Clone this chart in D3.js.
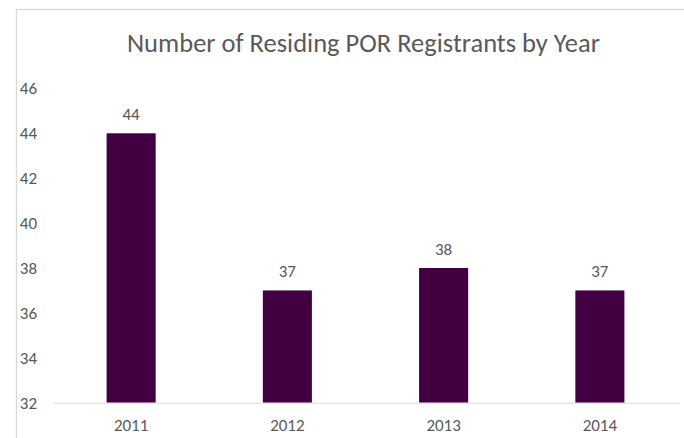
<!DOCTYPE html>
<html>
<head>
<meta charset="utf-8">
<script src="https://cdn.jsdelivr.net/npm/d3@7"></script>
<style>
    body { margin: 0; background: #ffffff; }
    svg { display: block; }
</style>
</head>
<body>
<div id="grafico"></div>
<script>
var anios = ["2011", "2012", "2013", "2014"];
var registrados = [44, 37, 38, 37];
var marcasY = [32, 34, 36, 38, 40, 42, 44, 46];
var titulo = "Number of Residing POR Registrants by Year";

var w = 684,
    h = 438;

var fuente = "Carlito, 'Liberation Sans', 'Open Sans', sans-serif";
var gris = "#595959";

var svg = d3.select("#grafico")
    .append("svg")
    .attr("width", w)
    .attr("height", h);

// marco del grafico (se corta por la derecha y abajo)
svg.append("rect")
    .attr("x", 16.5)
    .attr("y", 9.5)
    .attr("width", 800)
    .attr("height", 600)
    .attr("fill", "none")
    .attr("stroke", "#d9d9d9")
    .attr("stroke-width", 1.3);

var x = d3.scaleBand()
    .domain(anios)
    .range([53, 678])
    .paddingInner(0.686)
    .paddingOuter(0.343);

var y = d3.scaleLinear()
    .domain([32, 46])
    .range([402.7, 88.4]);

// titulo
svg.append("text")
    .attr("x", 363.5)
    .attr("y", 51.5)
    .attr("text-anchor", "middle")
    .attr("font-family", fuente)
    .attr("font-size", "26.5px")
    .attr("fill", gris)
    .text(titulo);

// eje Y (solo etiquetas)
var ejeY = svg.append("g")
    .attr("transform", "translate(37,0)")
    .call(d3.axisLeft(y).tickValues(marcasY).tickSize(0).tickPadding(0));
ejeY.select(".domain").remove();
ejeY.selectAll("text")
    .attr("font-family", fuente)
    .attr("font-size", "17px")
    .attr("fill", gris);

// barras
svg.selectAll("rect.barra")
    .data(registrados)
    .enter().append("rect")
    .attr("class", "barra")
    .attr("x", function(d, i) { return x(anios[i]); })
    .attr("y", function(d) { return y(d); })
    .attr("width", x.bandwidth())
    .attr("height", function(d) { return y(32) - y(d); })
    .attr("fill", "#420042");

// eje X
var ejeX = svg.append("g")
    .attr("transform", "translate(0," + y(32) + ")")
    .call(d3.axisBottom(x).tickSize(0).tickPadding(16));
ejeX.select(".domain")
    .attr("stroke", "#d9d9d9")
    .attr("d", "M53,0.5H680");
ejeX.selectAll("text")
    .attr("font-family", fuente)
    .attr("font-size", "17px")
    .attr("fill", gris);

// etiquetas de valor
svg.selectAll("text.valor")
    .data(registrados)
    .enter().append("text")
    .attr("class", "valor")
    .attr("x", function(d, i) { return x(anios[i]) + x.bandwidth() / 2; })
    .attr("y", function(d) { return y(d) - 13; })
    .attr("text-anchor", "middle")
    .attr("font-family", fuente)
    .attr("font-size", "17px")
    .attr("fill", gris)
    .text(function(d) { return d; });
</script>
</body>
</html>
